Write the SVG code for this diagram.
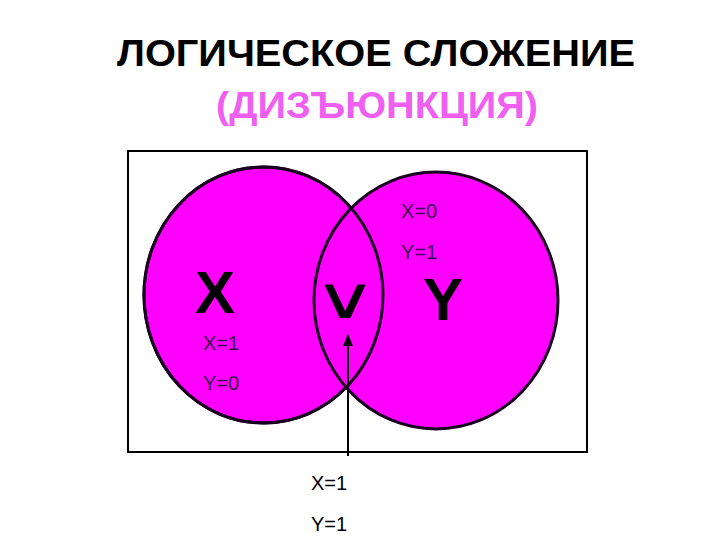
<svg xmlns="http://www.w3.org/2000/svg" width="720" height="540" viewBox="0 0 720 540">
<style>
.t{font-family:"Liberation Sans",Arial,sans-serif}
.lbl{font-size:20px;fill:#3a1050}
.big{font-size:60px;font-weight:bold;fill:#000}
.circ{fill:#ff00ff;stroke:#1a0020;stroke-width:3}
</style>
<defs>
<marker id="ah" markerWidth="12" markerHeight="10" refX="11" refY="5" orient="auto" markerUnits="userSpaceOnUse" viewBox="0 0 12 10">
<path d="M0,0 L12,5 L0,10 Z" fill="#000"/>
</marker>
</defs>
<rect width="720" height="540" fill="#fff"/>
<g id="title">
<text class="t" x="376" y="66" text-anchor="middle" font-size="36" font-weight="bold" fill="#000" textLength="518" lengthAdjust="spacingAndGlyphs">ЛОГИЧЕСКОЕ СЛОЖЕНИЕ</text>
<text class="t" x="377" y="118" text-anchor="middle" font-size="36" font-weight="bold" fill="#f060f0" textLength="322" lengthAdjust="spacingAndGlyphs">(ДИЗЪЮНКЦИЯ)</text>
</g>
<g id="frame"><rect x="128" y="151" width="459" height="301" fill="none" stroke="#000" stroke-width="2"/></g>
<g id="circleX"><ellipse class="circ" cx="263.5" cy="295" rx="119.5" ry="128"/></g>
<g id="circleY"><ellipse class="circ" cx="436" cy="300.5" rx="122" ry="128.5"/></g>
<g id="overlap">
<ellipse cx="263.5" cy="295" rx="119.5" ry="128" fill="none" stroke="#1a0020" stroke-width="3"/></g>
<g id="labels">
<text class="t big" x="195" y="313">X</text>
<text class="t big" x="423" y="320">Y</text>
<text x="0" y="0" text-anchor="middle" font-family="DejaVu Sans,sans-serif" font-size="58" fill="#000" transform="translate(345,318) scale(1.5,1)">∨</text>
<text class="t lbl" x="401" y="218">X=0</text>
<text class="t lbl" x="401" y="259">Y=1</text>
<text class="t lbl" x="203" y="350">X=1</text>
<text class="t lbl" x="203" y="390">Y=0</text>
<text class="t" x="311" y="490" font-size="20" fill="#000">X=1</text>
<text class="t" x="311" y="531" font-size="20" fill="#000">Y=1</text>
</g>
<g id="connectors">
<line x1="348" y1="456" x2="348" y2="335" stroke="#000" stroke-width="2" marker-end="url(#ah)"/>
</g>
</svg>
